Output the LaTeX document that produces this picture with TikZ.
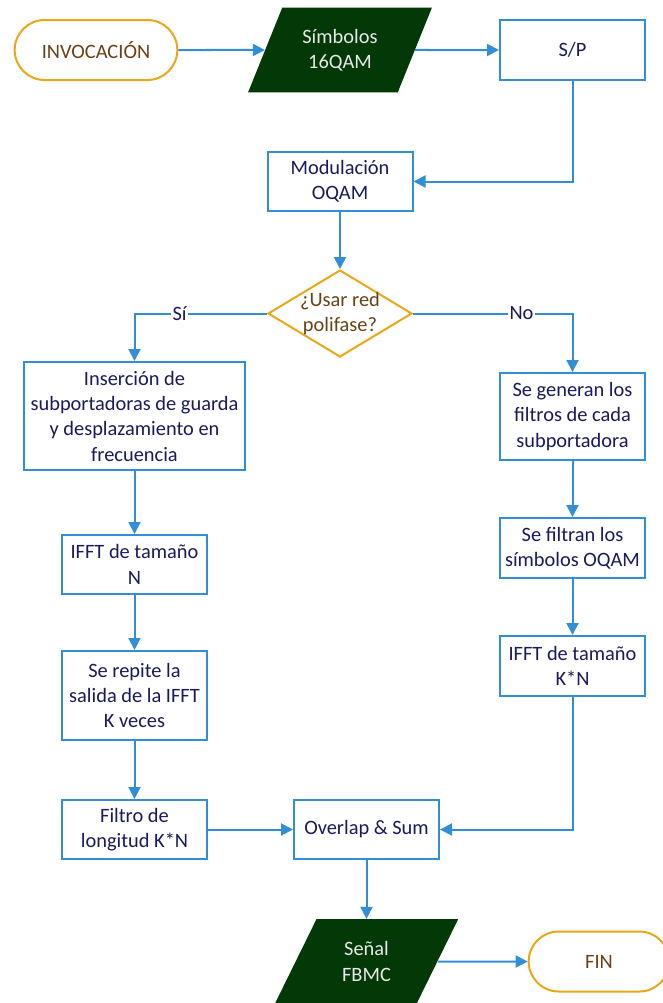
\documentclass[tikz,border=0pt]{standalone}
\usepackage{fontspec}
\setmainfont{Carlito}
\usetikzlibrary{shapes.geometric,shapes.misc,arrows.meta}

\definecolor{flowblue}{RGB}{50,142,214}
\definecolor{boxtext}{RGB}{26,26,94}
\definecolor{termorange}{RGB}{235,167,21}
\definecolor{termtext}{RGB}{106,64,20}
\definecolor{iogreen}{RGB}{3,56,7}
\definecolor{iotext}{RGB}{232,232,232}

\begin{document}
\begin{tikzpicture}[
  x=0.75pt, y=-0.75pt,
  every node/.style={font=\fontsize{15.3}{19}\selectfont, align=center, inner sep=2pt},
  procbox/.style={draw=flowblue, line width=1.5pt, fill=white, text=boxtext,
    rectangle, minimum width=#1},
  procbox/.default={108.75pt},
  terminal/.style={draw=termorange, line width=1.5pt, text=termtext,
    rounded rectangle, minimum height=45pt, minimum width=#1},
  iodata/.style={trapezium, trapezium left angle=63.4, trapezium right angle=116.6,
    trapezium stretches=true, fill=iogreen, text=iotext,
    minimum width=138pt, minimum height=63.5pt},
  decision/.style={diamond, draw=termorange, line width=1.5pt, text=termtext,
    minimum width=108pt, minimum height=65.25pt, inner sep=-3pt, aspect=1.65},
  flow/.style={draw=flowblue, line width=1.5pt,
    -{Triangle[length=9pt,width=9pt]}},
  choice/.style={fill=white, text=boxtext, inner sep=1pt},
]
\useasboundingbox (0,0) rectangle (662,1003);

% top row
\node[terminal=126pt] (inv) at (96,50) {INVOCACIÓN};
\node[iodata] (sym) at (340,50) {Símbolos\\16QAM};
\node[procbox, minimum height=45pt] (sp) at (572.5,50) {S/P};

\node[procbox, minimum height=44.25pt] (mod) at (340,181.5) {Modulación\\OQAM};
\node[decision] (dia) at (340,313.5) {¿Usar red\\polifase?};

% left branch
\node[procbox=165.75pt, minimum height=81pt] (ins) at (134.5,416)
  {Inserción de\\subportadoras de guarda\\y desplazamiento en\\frecuencia};
\node[procbox, minimum height=44.25pt] (ifftn) at (134.5,564.5) {IFFT de tamaño\\N};
\node[procbox, minimum height=66.75pt] (rep) at (134.5,695.5)
  {Se repite la\\salida de la IFFT\\K veces};
\node[procbox, minimum height=44.25pt] (fil) at (134.5,829.5) {Filtro de\\longitud K*N};

% right branch
\node[procbox, minimum height=65.25pt] (gen) at (572.5,416.5)
  {Se generan los\\filtros de cada\\subportadora};
\node[procbox, minimum height=45pt] (ftr) at (572.5,548) {Se filtran los\\símbolos OQAM};
\node[procbox, minimum height=45pt] (ifftk) at (572.5,666) {IFFT de tamaño\\K*N};

% merge and output
\node[procbox, minimum height=44.25pt] (ovl) at (366.5,829.5) {Overlap \& Sum};
\node[iodata] (sen) at (366.5,961.5) {Señal\\FBMC};
\node[terminal=109.5pt] (fin) at (599,961.5) {FIN};

% connectors
\draw[flow] (inv) -- (sym);
\draw[flow] (sym) -- (sp);
\draw[flow] (sp.south) |- (mod.east);
\draw[flow] (mod) -- (dia);
\draw[flow] (dia.west) -| node[choice, pos=0.33] {Sí} (ins.north);
\draw[flow] (dia.east) -| node[choice, pos=0.34] {No} (gen.north);
\draw[flow] (ins) -- (ifftn);
\draw[flow] (ifftn) -- (rep);
\draw[flow] (rep) -- (fil);
\draw[flow] (gen) -- (ftr);
\draw[flow] (ftr) -- (ifftk);
\draw[flow] (ifftk.south) |- (ovl.east);
\draw[flow] (fil) -- (ovl);
\draw[flow] (ovl) -- (sen);
\draw[flow] (sen) -- (fin);
\end{tikzpicture}
\end{document}
